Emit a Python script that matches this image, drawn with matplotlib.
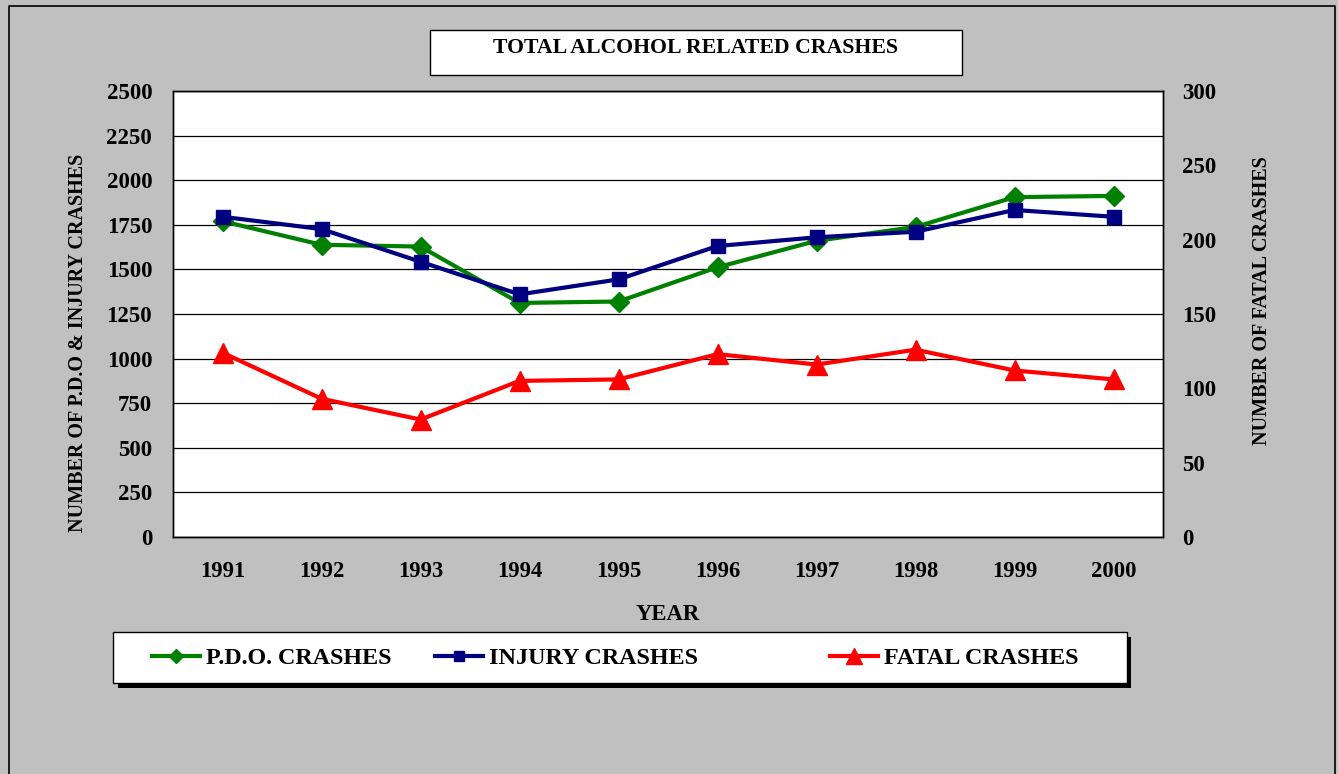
import matplotlib.pyplot as plt
from matplotlib.lines import Line2D
from matplotlib.patches import Rectangle

plt.rcParams["font.family"] = ["Liberation Serif", "DejaVu Serif"]
plt.rcParams["font.weight"] = "bold"
plt.rcParams["axes.labelweight"] = "bold"

years = [1991, 1992, 1993, 1994, 1995, 1996, 1997, 1998, 1999, 2000]
pdo_crashes = [1770, 1638, 1628, 1312, 1320, 1512, 1660, 1738, 1905, 1912]
injury_crashes = [1795, 1726, 1543, 1360, 1444, 1631, 1680, 1711, 1833, 1795]
fatal_crashes = [124, 93, 79, 105, 106, 123, 116, 126, 112, 106]

left_ticks = list(range(0, 2501, 250))
right_ticks = list(range(0, 301, 50))

GREEN = "#008000"
NAVY = "#000080"
RED = "#FF0000"
BG = "#C0C0C0"

W, H = 1338, 774
fig = plt.figure(figsize=(W / 100, H / 100), dpi=100, facecolor=BG)

# outer border (bottom edge runs off the picture)
fig.add_artist(Line2D([9 / W, 9 / W, 1335 / W, 1335 / W],
                      [-0.01, 1 - 6 / H, 1 - 6 / H, -0.01],
                      color="black", lw=1.2, transform=fig.transFigure))

ax = fig.add_axes([173 / W, 1 - 537 / H, 990 / W, 446 / H])
ax.set_facecolor("white")
ax2 = ax.twinx()

ax.set_xlim(1990.5, 2000.5)
ax.set_ylim(0, 2500)
ax2.set_ylim(0, 300)

ax.set_yticks(left_ticks)
ax2.set_yticks(right_ticks)
ax.set_xticks(years)

ax.grid(axis="y", color="black", lw=0.9)
ax.set_axisbelow(True)

ax.tick_params(axis="y", length=0, pad=15, labelsize=16.5)
ax.tick_params(axis="x", length=0, pad=17, labelsize=16.3)
ax2.tick_params(axis="y", length=0, pad=14, labelsize=16.5)

for a in (ax, ax2):
    for s in a.spines.values():
        s.set_color("black")
        s.set_linewidth(1.0)

ax.plot(years, pdo_crashes, color=GREEN, lw=3, marker="D", ms=10,
        label="P.D.O. CRASHES", zorder=3)
ax.plot(years, injury_crashes, color=NAVY, lw=3, marker="s", ms=10.5,
        label="INJURY CRASHES", zorder=4)
ax2.plot(years, fatal_crashes, color=RED, lw=3, marker="^", ms=15,
         label="FATAL CRASHES", zorder=3)

ax.set_xlabel("YEAR", fontsize=16.3, fontweight="bold", labelpad=16)
ax.set_ylabel("NUMBER OF P.D.O & INJURY CRASHES", fontsize=14.5,
              fontweight="bold")
ax2.set_ylabel("NUMBER OF FATAL CRASHES", fontsize=14.5, fontweight="bold")
ax.yaxis.set_label_coords(-0.086, 0.435)
ax2.yaxis.set_label_coords(1.090, 0.529)

# title box
fig.add_artist(Rectangle((430 / W, 1 - 75 / H), 532 / W, 45 / H,
                         facecolor="white", edgecolor="black", lw=1.0,
                         transform=fig.transFigure))
fig.text(696 / W, 1 - 48 / H, "TOTAL ALCOHOL RELATED CRASHES",
         ha="center", va="center", fontsize=15.7)

# legend box with black shadow
fig.add_artist(Rectangle((118 / W, 1 - 688 / H), 1013 / W, 51 / H,
                         facecolor="black", edgecolor="none",
                         transform=fig.transFigure))
fig.add_artist(Rectangle((113 / W, 1 - 683 / H), 1014 / W, 51 / H,
                         facecolor="white", edgecolor="black", lw=1.0,
                         transform=fig.transFigure))

h1, l1 = ax.get_legend_handles_labels()
h2, l2 = ax2.get_legend_handles_labels()
handles = h1 + h2
labels = l1 + l2
legend_x = [152, 435, 830]
for handle, label, x in zip(handles, labels, legend_x):
    fig.legend([handle], [label], loc="center left",
               bbox_to_anchor=(x / W, 1 - 658 / H), frameon=False,
               fontsize=17.4, handlelength=2.0, handletextpad=0.25,
               markerscale=0.75, borderpad=0, borderaxespad=0)

fig.savefig("out.png", dpi=100, facecolor=BG)
